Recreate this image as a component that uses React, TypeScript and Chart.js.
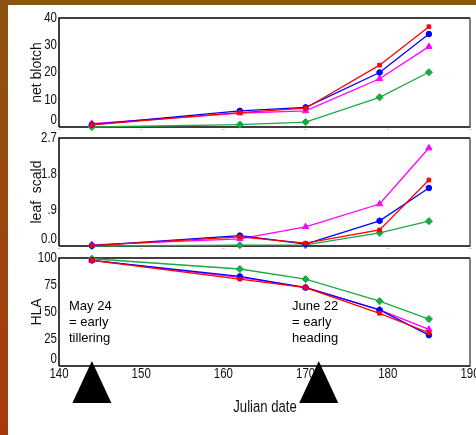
import React, { useEffect, useRef } from 'react';
import { Chart, registerables } from 'chart.js';

Chart.register(...registerables);

// ---- data ----
const days = [144, 162, 170, 179, 185];

const netBlotchRed = [0.8, 5.3, 6.9, 22.7, 36.8];
const netBlotchBlue = [0.9, 5.9, 7.2, 20.0, 34.1];
const netBlotchMagenta = [1.2, 5.1, 5.9, 17.7, 29.5];
const netBlotchGreen = [0.0, 0.9, 1.8, 10.9, 20.1];

const leafScaldRed = [0.01, 0.23, 0.07, 0.4, 1.65];
const leafScaldBlue = [0.01, 0.26, 0.05, 0.63, 1.45];
const leafScaldMagenta = [0.03, 0.18, 0.48, 1.05, 2.45];
const leafScaldGreen = [0.0, 0.02, 0.03, 0.33, 0.62];

const hlaRed = [97.8, 80.4, 72.6, 48.8, 30.8];
const hlaBlue = [97.8, 82.9, 72.6, 51.9, 28.6];
const hlaMagenta = [97.8, 82.0, 72.8, 52.0, 33.9];
const hlaGreen = [99.3, 89.8, 80.4, 60.0, 43.5];

const netBlotchTicks = [0, 10, 20, 30, 40];
const netBlotchTickLabels = ['0', '10', '20', '30', '40'];
const leafScaldTicks = [0, 0.9, 1.8, 2.7];
const leafScaldTickLabels = ['0.0', '.9', '1.8', '2.7'];
const hlaTicks = [0, 25, 50, 75, 100];
const hlaTickLabels = ['0', '25', '50', '75', '100'];
const xTicks = [140, 150, 160, 170, 180, 190];
const xTickLabels = ['140', '150', '160', '170', '180', '190'];

const markerDays = [144, 171.6];
const annotationTexts = [
  ['May 24', '= early', 'tillering'],
  ['June 22', '= early', 'heading'],
];

// ---- styles ----
const W = 476;
const H = 435;
const REG = '"Liberation Sans", Arial, Helvetica, sans-serif';
const NARROW_SCALE = 0.82;

const seriesStyles = [
  { color: '#ff0000', pointStyle: 'rect', radius: 2.6 },
  { color: '#0000ff', pointStyle: 'circle', radius: 2.8 },
  { color: '#ff00ff', pointStyle: 'triangle', radius: 3.6 },
  { color: '#1ca845', pointStyle: 'rectRot', radius: 3.6 },
];

type Panel = {
  title: string;
  yMax: number;
  ticks: number[];
  tickLabels: string[];
  series: number[][];
  top: number;
  bottom: number;
  showX: boolean;
};

const panels: Panel[] = [
  {
    title: 'net blotch',
    yMax: 40,
    ticks: netBlotchTicks,
    tickLabels: netBlotchTickLabels,
    series: [netBlotchRed, netBlotchBlue, netBlotchMagenta, netBlotchGreen],
    top: 18,
    bottom: 127,
    showX: false,
  },
  {
    title: 'leaf  scald',
    yMax: 2.7,
    ticks: leafScaldTicks,
    tickLabels: leafScaldTickLabels,
    series: [leafScaldRed, leafScaldBlue, leafScaldMagenta, leafScaldGreen],
    top: 138,
    bottom: 246,
    showX: false,
  },
  {
    title: 'HLA',
    yMax: 100,
    ticks: hlaTicks,
    tickLabels: hlaTickLabels,
    series: [hlaRed, hlaBlue, hlaMagenta, hlaGreen],
    top: 258,
    bottom: 366,
    showX: true,
  },
];

const PLOT_LEFT = 59;
const PLOT_RIGHT = 470;

// draw condensed text (emulating Arial Narrow) by scaling horizontally
function narrowText(
  ctx: CanvasRenderingContext2D,
  text: string,
  x: number,
  y: number,
  size: number,
  align: CanvasTextAlign,
  baseline: CanvasTextBaseline
) {
  ctx.save();
  ctx.translate(x, y);
  ctx.scale(NARROW_SCALE, 1);
  ctx.font = `${size}px ${REG}`;
  ctx.textAlign = align;
  ctx.textBaseline = baseline;
  ctx.fillText(text, 0, 0);
  ctx.restore();
}

function makePlugin(panel: Panel) {
  return {
    id: 'panelDecor',
    beforeDatasetsDraw(chart: any) {
      const { ctx, chartArea: a } = chart;
      ctx.save();
      ctx.lineWidth = 1.5;
      ctx.strokeStyle = '#000';
      ctx.beginPath();
      ctx.moveTo(a.left, a.bottom);
      ctx.lineTo(a.left, a.top);
      ctx.lineTo(a.right, a.top);
      ctx.moveTo(a.left, a.bottom);
      ctx.lineTo(a.right, a.bottom);
      ctx.stroke();
      ctx.strokeStyle = '#555';
      ctx.beginPath();
      ctx.moveTo(a.right, a.top);
      ctx.lineTo(a.right, a.bottom + 1);
      ctx.stroke();
      if (!panel.showX) {
        // faint tick marks under the axis
        ctx.strokeStyle = '#ccc';
        ctx.lineWidth = 1;
        xTicks.forEach((v) => {
          const px = chart.scales.x.getPixelForValue(v);
          ctx.beginPath();
          ctx.moveTo(px - 1.5, a.bottom + 2.5);
          ctx.lineTo(px + 1.5, a.bottom + 2.5);
          ctx.stroke();
        });
      }
      ctx.restore();
    },
    afterDraw(chart: any) {
      const { ctx, chartArea: a, scales } = chart;
      const x = scales.x;
      const y = scales.y;
      ctx.save();
      ctx.fillStyle = '#111';
      // y tick labels
      panel.ticks.forEach((v, i) => {
        let py = y.getPixelForValue(v);
        if (i === 0) py -= 7;
        narrowText(ctx, panel.tickLabels[i], a.left - 2, py, 14, 'right', 'middle');
      });
      // y title
      ctx.save();
      ctx.translate(37, (a.top + a.bottom) / 2);
      ctx.rotate(-Math.PI / 2);
      ctx.textAlign = 'center';
      ctx.textBaseline = 'middle';
      ctx.font = `14px ${REG}`;
      ctx.fillText(panel.title, 0, 0);
      ctx.restore();

      if (panel.showX) {
        xTicks.forEach((v, i) => {
          narrowText(ctx, xTickLabels[i], x.getPixelForValue(v), a.bottom + 1, 14, 'center', 'top');
        });
        narrowText(ctx, 'Julian date', 265, 408, 16, 'center', 'middle');

        // annotations
        ctx.fillStyle = '#000';
        ctx.font = `13px ${REG}`;
        ctx.textAlign = 'left';
        ctx.textBaseline = 'middle';
        const annX = [69, 292];
        annotationTexts.forEach((lines, k) => {
          lines.forEach((t, j) => {
            ctx.fillText(t, annX[k], 306 + j * 16.3);
          });
        });

        // triangles
        markerDays.forEach((d) => {
          const px = x.getPixelForValue(d);
          ctx.beginPath();
          ctx.moveTo(px, a.bottom - 5);
          ctx.lineTo(px + 19.5, 403);
          ctx.lineTo(px - 19.5, 403);
          ctx.closePath();
          ctx.fill();
        });
      }
      ctx.restore();
    },
  };
}

function PanelChart({ panel }: { panel: Panel }) {
  const ref = useRef<HTMLCanvasElement | null>(null);
  useEffect(() => {
    if (!ref.current) return;
    const datasets = panel.series.map((vals, i) => ({
      data: vals.map((v, j) => ({ x: days[j], y: v })),
      borderColor: seriesStyles[i].color,
      backgroundColor: seriesStyles[i].color,
      borderWidth: 1.3,
      pointStyle: seriesStyles[i].pointStyle as any,
      pointRadius: seriesStyles[i].radius,
      pointBorderWidth: 1,
      tension: 0,
      clip: false as any,
    }));
    const chart = new Chart(ref.current, {
      type: 'line',
      data: { datasets },
      options: {
        animation: false,
        responsive: false,
        devicePixelRatio: 1,
        layout: {
          padding: {
            left: PLOT_LEFT,
            right: W - PLOT_RIGHT,
            top: panel.top,
            bottom: H - panel.bottom,
          },
        },
        plugins: { legend: { display: false }, tooltip: { enabled: false } },
        events: [],
        scales: {
          x: { type: 'linear', min: 140, max: 190, display: false },
          y: { type: 'linear', min: 0, max: panel.yMax, display: false },
        },
      },
      plugins: [makePlugin(panel)],
    });
    return () => chart.destroy();
  }, [panel]);
  return (
    <canvas
      ref={ref}
      width={W}
      height={H}
      style={{ position: 'absolute', left: 0, top: 0, width: W, height: H }}
    />
  );
}

export default function App() {
  return (
    <div
      style={{
        position: 'absolute',
        left: 0,
        top: 0,
        width: W,
        height: H,
        background: '#fff',
        overflow: 'hidden',
      }}
    >
      <div
        style={{
          position: 'absolute',
          left: 0,
          top: 0,
          width: 8,
          height: H,
          background: 'linear-gradient(#8c5412, #a83a0a)',
        }}
      />
      <div
        style={{
          position: 'absolute',
          left: 0,
          top: 0,
          width: W,
          height: 5,
          background: '#8c5412',
        }}
      />
      {panels.map((p) => (
        <PanelChart key={p.title} panel={p} />
      ))}
    </div>
  );
}
